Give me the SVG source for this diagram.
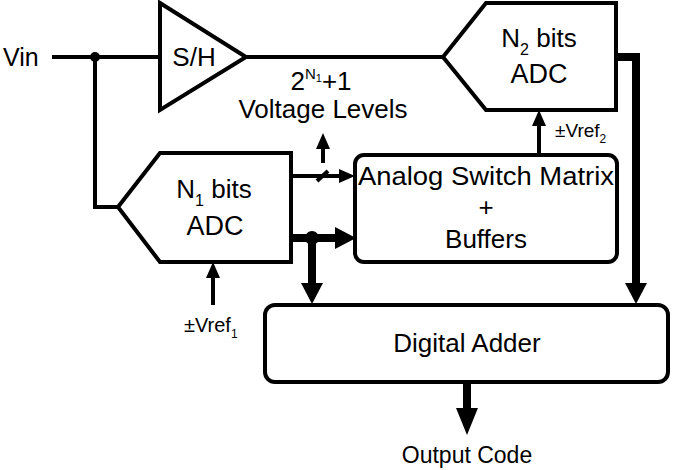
<svg xmlns="http://www.w3.org/2000/svg" width="685" height="470" viewBox="0 0 685 470">
<style>
.t{font-family:"Liberation Sans",Arial,sans-serif;fill:#000}
.thin{stroke:#000;stroke-width:4;fill:none}
.thick{stroke:#000;stroke-width:8;fill:none}
.blk{fill:#fff;stroke:#000;stroke-width:4;stroke-linejoin:miter}
</style>
<defs>
<marker id="ah" markerUnits="userSpaceOnUse" markerWidth="16" markerHeight="14" refX="0" refY="7" orient="auto">
<path d="M0,0 L16,7 L0,14 z" fill="#000"/>
</marker>
<marker id="ahT" markerUnits="userSpaceOnUse" markerWidth="22" markerHeight="22" refX="0" refY="11" orient="auto">
<path d="M0,0 L21,11 L0,22 z" fill="#000"/>
</marker>
<marker id="ahO" markerUnits="userSpaceOnUse" markerWidth="28" markerHeight="22" refX="0" refY="11" orient="auto">
<path d="M0,0 L27,11 L0,22 z" fill="#000"/>
</marker>
</defs>
<g id="connectors">
<path class="thin" d="M52,57 H160"/>
<path class="thin" d="M95,57 V207 H118"/>
<path class="thin" d="M246,57 H443"/>
<path class="thick" d="M616,57 H636 V283" marker-end="url(#ahT)"/>
<path class="thin" d="M291,176 H339" marker-end="url(#ah)"/>
<path class="thin" d="M317,181 L328,171"/>
<path class="thin" d="M323,163 V149" marker-end="url(#ah)"/>
<path class="thick" d="M291,238 H335" marker-end="url(#ahT)"/>
<circle cx="312" cy="238" r="7" fill="#000"/>
<path class="thick" d="M312,238 V283" marker-end="url(#ahT)"/>
<circle cx="95" cy="57" r="5" fill="#000"/>
<path class="thin" d="M539,155 V126" marker-end="url(#ah)"/>
<path class="thin" d="M213,305 V278" marker-end="url(#ah)"/>
<path class="thick" d="M467,382 V408" marker-end="url(#ahO)"/>
</g>
<g id="vin"><text class="t" x="3" y="66" font-size="25">Vin</text></g>
<g id="sh">
<path class="blk" d="M160,3 L246,57 L160,110 Z"/>
<text class="t" x="194" y="66" font-size="26" text-anchor="middle">S/H</text>
</g>
<g id="adc2">
<path class="blk" d="M443,57 L486,3 H616 V110 H486 Z"/>
<text class="t" x="539" y="47" font-size="26" text-anchor="middle">N<tspan font-size="16" dy="8">2</tspan><tspan dy="-8"> bits</tspan></text>
<text class="t" x="539" y="83" font-size="27" text-anchor="middle">ADC</text>
</g>
<g id="adc1">
<path class="blk" d="M118,207 L160,153 H291 V262 H160 Z"/>
<text class="t" x="214" y="198" font-size="26" text-anchor="middle">N<tspan font-size="16" dy="8">1</tspan><tspan dy="-8"> bits</tspan></text>
<text class="t" x="215" y="235" font-size="27" text-anchor="middle">ADC</text>
</g>
<g id="levels">
<text class="t" x="321" y="90" font-size="26" text-anchor="middle">2<tspan font-size="15" dy="-11">N</tspan><tspan font-size="11" dy="3">1</tspan><tspan dy="8">+1</tspan></text>
<text class="t" x="323" y="118" font-size="26" text-anchor="middle">Voltage Levels</text>
</g>
<g id="asm">
<rect class="blk" x="355" y="155" width="262" height="107" rx="9"/>
<text class="t" x="486" y="185" font-size="26" text-anchor="middle" textLength="256" lengthAdjust="spacingAndGlyphs">Analog Switch Matrix</text>
<text class="t" x="486" y="216" font-size="26" text-anchor="middle">+</text>
<text class="t" x="486" y="248" font-size="26" text-anchor="middle">Buffers</text>
</g>
<g id="vref2"><text class="t" x="555" y="137" font-size="19">±Vref<tspan font-size="12" dy="6">2</tspan></text></g>
<g id="vref1"><text class="t" x="184" y="332" font-size="20">±Vref<tspan font-size="12" dy="6">1</tspan></text></g>
<g id="adder">
<rect class="blk" x="265" y="305" width="403" height="77" rx="10"/>
<text class="t" x="467" y="352" font-size="26" text-anchor="middle">Digital Adder</text>
</g>
<g id="out"><text class="t" x="467" y="463" font-size="23" text-anchor="middle">Output Code</text></g>
</svg>
